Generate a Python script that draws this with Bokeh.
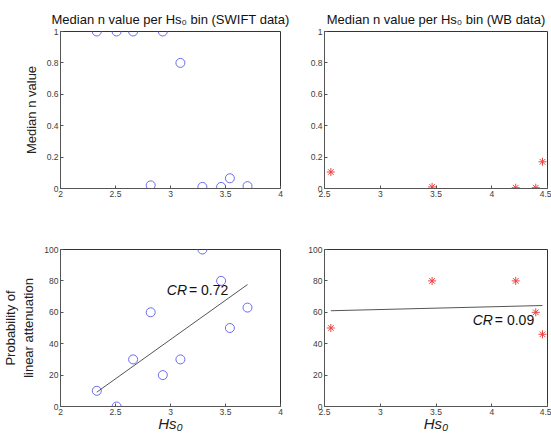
import numpy as np
from bokeh.plotting import figure
from bokeh.layouts import gridplot
from bokeh.models import Range1d, FixedTicker
from bokeh.core.properties import value
from bokeh.embed import file_html
from bokeh.resources import INLINE

# SWIFT data (10 Hs0 bins)
swift_hs = [2.33, 2.51, 2.66, 2.82, 2.93, 3.09, 3.29, 3.46, 3.54, 3.70]
swift_n = [1.0, 1.0, 1.0, 0.02, 1.0, 0.80, 0.01, 0.01, 0.065, 0.015]
swift_prob = [10, 0, 30, 60, 20, 30, 100, 80, 50, 63]
swift_cr = "= 0.72"

# WB data (5 Hs0 bins)
wb_hs = [2.557, 3.465, 4.215, 4.395, 4.455]
wb_n = [0.105, 0.01, 0.005, 0.005, 0.17]
wb_prob = [50, 80, 80, 60, 46]
wb_cr = "= 0.09"

left_xticks = [2, 2.5, 3, 3.5, 4]
right_xticks = [2.5, 3, 3.5, 4, 4.5]
n_yticks = [0, 0.2, 0.4, 0.6, 0.8, 1]
p_yticks = [0, 20, 40, 60, 80, 100]

FONT = "Liberation Sans"
TICK_COLOR = "#404040"


def style(p, xticks, yticks):
    p.xaxis.ticker = FixedTicker(ticks=xticks)
    p.yaxis.ticker = FixedTicker(ticks=yticks)
    for ax in p.xaxis + p.yaxis:
        ax.major_tick_in = 3
        ax.major_tick_out = 0
        ax.minor_tick_line_color = None
        ax.axis_line_color = "#555555"
        ax.major_tick_line_color = "#555555"
        ax.major_label_text_font = FONT
        ax.major_label_text_font_size = "8.5px"
        ax.major_label_text_color = TICK_COLOR
        ax.axis_label_text_font = FONT
        ax.axis_label_text_font_style = "normal"
        ax.axis_label_text_color = "#222222"
        ax.axis_label_text_font_size = "13px"
        ax.major_label_standoff = 2
    p.xgrid.visible = False
    p.ygrid.visible = False
    p.outline_line_color = "#333333"
    p.outline_line_width = 1
    p.background_fill_color = "white"
    p.border_fill_color = "white"
    if p.title is not None:
        p.title.text_font = FONT
        p.title.text_font_style = "normal"
        p.title.text_font_size = "13px"
        p.title.align = "center"
        p.title.text_color = "#111111"


def make(xr, yr, w, h, bl, bt, bb, br, title=None):
    kw = {}
    if title is not None:
        kw["title"] = title
    p = figure(width=w, height=h, x_range=Range1d(*xr), y_range=Range1d(*yr),
               output_backend="svg", toolbar_location=None,
               min_border_left=bl, min_border_top=bt, min_border_bottom=bb,
               min_border_right=br, **kw)
    return p


LW, RW = 296, 255

# Top-left
p1 = make((2, 4), (0, 1), LW, 210, 57, 31, 22, 16,
          title="Median n value per Hs\u2080 bin (SWIFT data)")
p1.scatter(swift_hs, swift_n, marker="circle", size=9, fill_color=None,
           line_color="#6b6bf0", line_width=1)
p1.yaxis.axis_label = "Median n value"
style(p1, left_xticks, n_yticks)
p1.yaxis.major_label_overrides = {0: "0", 1: "1"}

# Top-right
p2 = make((2.5, 4.5), (0, 1), RW, 210, 28, 31, 22, 4,
          title="Median n value per Hs\u2080 bin (WB data)")
p2.scatter(wb_hs, wb_n, marker="asterisk", size=8, line_color="#f04040",
           line_width=1)
style(p2, right_xticks, n_yticks)
p2.yaxis.major_label_overrides = {0: "0", 1: "1"}

# Bottom-left
p3 = make((2, 4), (0, 100), LW, 230, 57, 39, 34, 16)
p3.scatter(swift_hs, swift_prob, marker="circle", size=9, fill_color=None,
           line_color="#6b6bf0", line_width=1)
k, b = np.polyfit(swift_hs, swift_prob, 1)
fx = [min(swift_hs), max(swift_hs)]
p3.line(fx, [k * x + b for x in fx], line_color="#555555", line_width=1)
p3.text(x=[3.15], y=[74], text=["CR"], text_font=value(FONT),
        text_font_style="italic", text_font_size="14px", text_align="right",
        text_baseline="middle", text_color="#111111")
p3.text(x=[3.15], y=[74], text=[swift_cr], text_font=value(FONT),
        text_font_size="14px", text_align="left", x_offset=2,
        text_baseline="middle", text_color="#111111")
p3.yaxis.axis_label = "Probability of\nlinear attenuation"
p3.xaxis.axis_label = "Hs\u2080"
style(p3, left_xticks, p_yticks)
p3.xaxis.axis_label_text_font_size = "15px"
p3.xaxis.axis_label_text_font_style = "italic"
p3.xaxis.axis_label_standoff = -3

# Bottom-right
p4 = make((2.5, 4.5), (0, 100), RW, 230, 28, 39, 34, 4)
k2, b2 = np.polyfit(wb_hs, wb_prob, 1)
fx2 = [min(wb_hs), max(wb_hs)]
p4.line(fx2, [k2 * x + b2 for x in fx2], line_color="#555555", line_width=1)
p4.scatter(wb_hs, wb_prob, marker="asterisk", size=8, line_color="#f04040",
           line_width=1)
p4.text(x=[4.01], y=[55], text=["CR"], text_font=value(FONT),
        text_font_style="italic", text_font_size="14px", text_align="right",
        text_baseline="middle", text_color="#111111")
p4.text(x=[4.01], y=[55], text=[wb_cr], text_font=value(FONT),
        text_font_size="14px", text_align="left", x_offset=2,
        text_baseline="middle", text_color="#111111")
p4.xaxis.axis_label = "Hs\u2080"
style(p4, right_xticks, p_yticks)
p4.xaxis.axis_label_text_font_size = "15px"
p4.xaxis.axis_label_text_font_style = "italic"
p4.xaxis.axis_label_standoff = -3

grid = gridplot([[p1, p2], [p3, p4]], toolbar_location=None)

open("out.html", "w").write(file_html(grid, INLINE))
